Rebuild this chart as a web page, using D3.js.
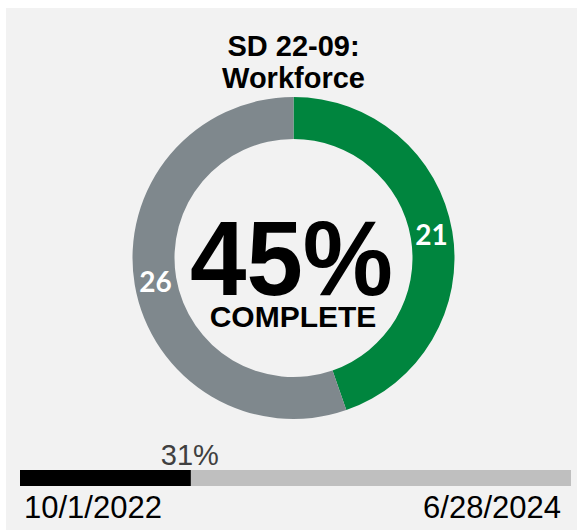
<!DOCTYPE html>
<html>
<head>
<meta charset="utf-8">
<script src="https://cdn.jsdelivr.net/npm/d3@7"></script>
<style>
  body { margin: 0; background: #ffffff; }
  svg { display: block; font-family: "Liberation Sans", Arial, sans-serif; }
</style>
</head>
<body>
<div id="chart"></div>
<script>
// data
const titleLines = ["SD 22-09:", "Workforce"];
const segmentNames = ["Complete", "Remaining"];
const segmentValues = [21, 26];
const segmentColors = ["#00853e", "#7f888d"];
const centerLabel = "COMPLETE";
const timeProgress = [0.31];
const dateLabels = ["10/1/2022", "6/28/2024"];

const width = 577;
const height = 530;

const svg = d3.select("#chart")
  .append("svg")
  .attr("width", width)
  .attr("height", height);

// panel background
svg.append("rect")
  .attr("x", 6).attr("y", 8)
  .attr("width", width - 6).attr("height", height - 8)
  .attr("fill", "#f2f2f2");

// title
svg.append("g")
  .selectAll("text")
  .data(titleLines)
  .join("text")
  .attr("x", 293.5)
  .attr("y", (d, i) => 56 + i * 32)
  .attr("text-anchor", "middle")
  .attr("font-size", 29)
  .attr("font-weight", "bold")
  .attr("fill", "#000")
  .text(d => d);

// donut
const cx = 293.5, cy = 258;
const outerR = 161, innerR = 119;

const pie = d3.pie().sort(null).value(d => d)(segmentValues);
const arc = d3.arc().innerRadius(innerR).outerRadius(outerR);

const donut = svg.append("g").attr("transform", `translate(${cx},${cy})`);

donut.selectAll("path")
  .data(pie)
  .join("path")
  .attr("d", arc)
  .attr("fill", (d, i) => segmentColors[i]);

donut.selectAll("text.val")
  .data(pie)
  .join("text")
  .attr("class", "val")
  .attr("transform", d => `translate(${arc.centroid(d)})`)
  .attr("text-anchor", "middle")
  .attr("dy", "0.37em")
  .attr("font-family", "Lato, 'Liberation Sans', sans-serif")
  .attr("font-size", 28)
  .attr("font-weight", "bold")
  .attr("fill", "#fff")
  .text(d => d.data);

const total = d3.sum(segmentValues);
const pct = Math.round(segmentValues[0] / total * 100);

donut.append("text")
  .attr("x", -2)
  .attr("y", 37)
  .attr("text-anchor", "middle")
  .attr("font-size", 105)
  .attr("font-weight", "bold")
  .attr("fill", "#000")
  .attr("textLength", 203)
  .attr("lengthAdjust", "spacingAndGlyphs")
  .text(pct + "%");

donut.append("text")
  .attr("x", -0.5)
  .attr("y", 69)
  .attr("text-anchor", "middle")
  .attr("font-size", 30)
  .attr("font-weight", "bold")
  .attr("fill", "#000")
  .text(centerLabel);

// time progress bar
const x = d3.scaleLinear().domain([0, 1]).range([20, 571]);
const barY = 470, barH = 16;

svg.append("rect")
  .attr("x", x(0)).attr("y", barY)
  .attr("width", x(1) - x(0)).attr("height", barH)
  .attr("fill", "#bfbfbf");

svg.selectAll("rect.done")
  .data(timeProgress)
  .join("rect")
  .attr("class", "done")
  .attr("x", x(0)).attr("y", barY)
  .attr("width", d => x(d) - x(0)).attr("height", barH)
  .attr("fill", "#000");

svg.selectAll("text.prog")
  .data(timeProgress)
  .join("text")
  .attr("class", "prog")
  .attr("x", d => x(d) - 1)
  .attr("y", barY - 5)
  .attr("text-anchor", "middle")
  .attr("font-size", 29)
  .attr("fill", "#404040")
  .text(d => Math.round(d * 100) + "%");

svg.selectAll("text.date")
  .data(dateLabels)
  .join("text")
  .attr("class", "date")
  .attr("x", (d, i) => i === 0 ? x(0) + 4 : x(1) - 10)
  .attr("y", 518)
  .attr("text-anchor", (d, i) => i === 0 ? "start" : "end")
  .attr("font-size", 31)
  .attr("fill", "#000")
  .text(d => d);
</script>
</body>
</html>
